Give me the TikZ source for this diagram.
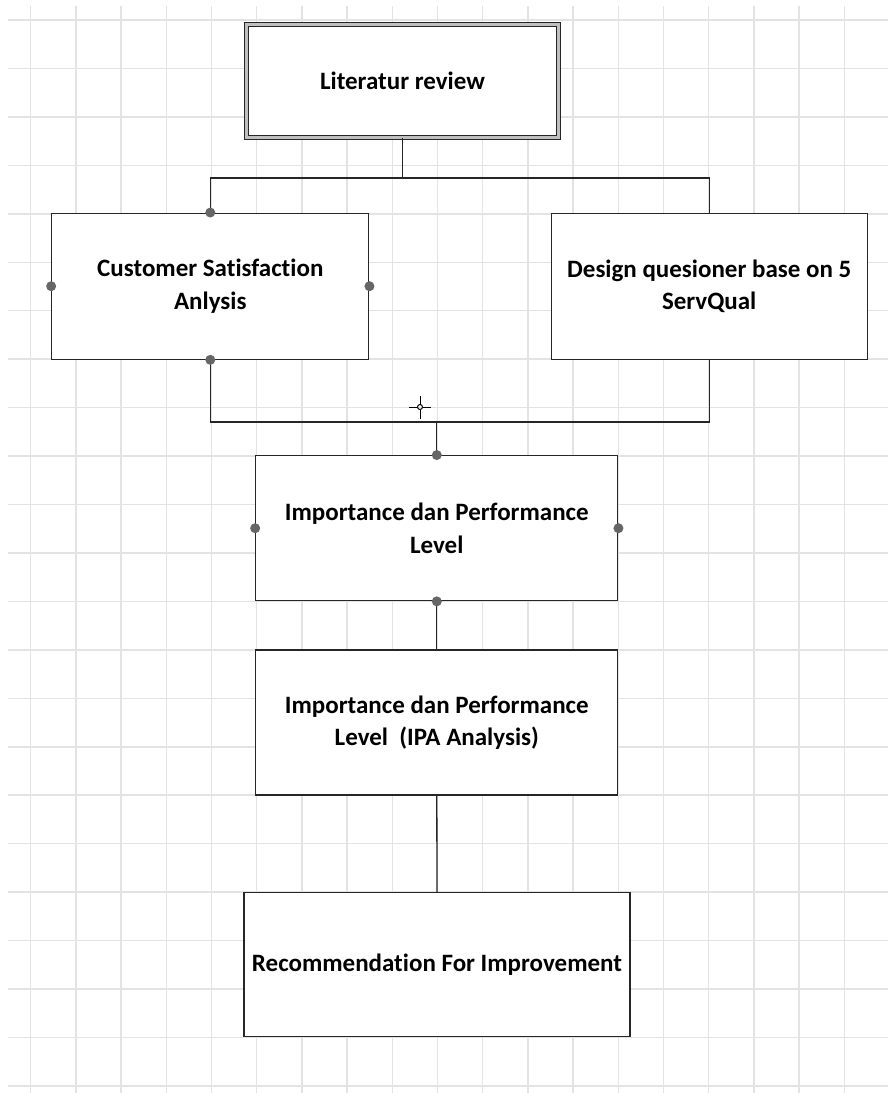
\documentclass[tikz,border=0pt]{standalone}
\usepackage{fontspec}
\setmainfont[Ligatures=NoCommon]{Carlito}

\tikzset{
  box/.style={draw=black!85, line width=1.3pt, fill=white, inner sep=0pt,
    align=center, font=\bfseries\fontsize{25}{32.5}\selectfont},
  handle/.style={fill=black!60},
  link/.style={draw=black!85, line width=1.3pt},
  gridline/.style={draw=black!11, line width=1.5pt}
}

\begin{document}
\begin{tikzpicture}[x=1pt,y=-1pt]
\useasboundingbox (0,0) rectangle (888,1093);
\fill[white] (0,0) rectangle (888,1093);

% grid
\foreach \i in {0,...,18}
  \draw[gridline] ({30.7+45.2*\i},6) -- ({30.7+45.2*\i},1093);
\foreach \j in {0,...,22}
  \draw[gridline] (8,{20+48.45*\j}) -- (888,{20+48.45*\j});

% boxes
\node[box, line width=1pt, double=black!25, double distance=3pt,
  minimum width=312pt, minimum height=113pt] (lit) at (402.5,81) {Literatur review};
\node[box, minimum width=317pt, minimum height=146pt] (cs) at (210.3,286.2)
  {Customer Satisfaction\\Anlysis};
\node[box, minimum width=316pt, minimum height=146pt] (dq) at (709.2,286.2)
  {Design quesioner base on 5\\ServQual};
\node[box, minimum width=362pt, minimum height=145pt] (ipl) at (436.8,528.2)
  {Importance dan Performance\\Level};
\node[box, minimum width=362pt, minimum height=145pt] (ipa) at (436.8,722.5)
  {Importance dan Performance\\Level\ \ (IPA Analysis)};
\node[box, minimum width=386pt, minimum height=144pt] (rec) at (437,964.5)
  {Recommendation For Improvement};

% connectors
\coordinate (topbus) at (402.5,178);
\coordinate (midbus) at (436.8,422);
\draw[link] (lit.south) -- (topbus);
\draw[link] (cs.north) |- (topbus) -| (dq.north);
\draw[link] (cs.south) |- (midbus) -| (dq.south);
\draw[link] (midbus) -- (ipl.north);
\draw[link] (ipl.south) -- (ipa.north);
\draw[link] (ipa.south) -- (rec.north);

% handles
\foreach \a in {north,south,east,west} {
  \fill[handle] (cs.\a) circle[radius=5pt];
  \fill[handle] (ipl.\a) circle[radius=5pt];
}

% cursor
\draw[line width=1pt] (409,407) -- (417.5,407) (422.5,407) -- (431,407)
  (420,396) -- (420,404.5) (420,409.5) -- (420,419);
\draw[line width=1pt] (420,407) circle[radius=2.5pt];
\end{tikzpicture}
\end{document}
